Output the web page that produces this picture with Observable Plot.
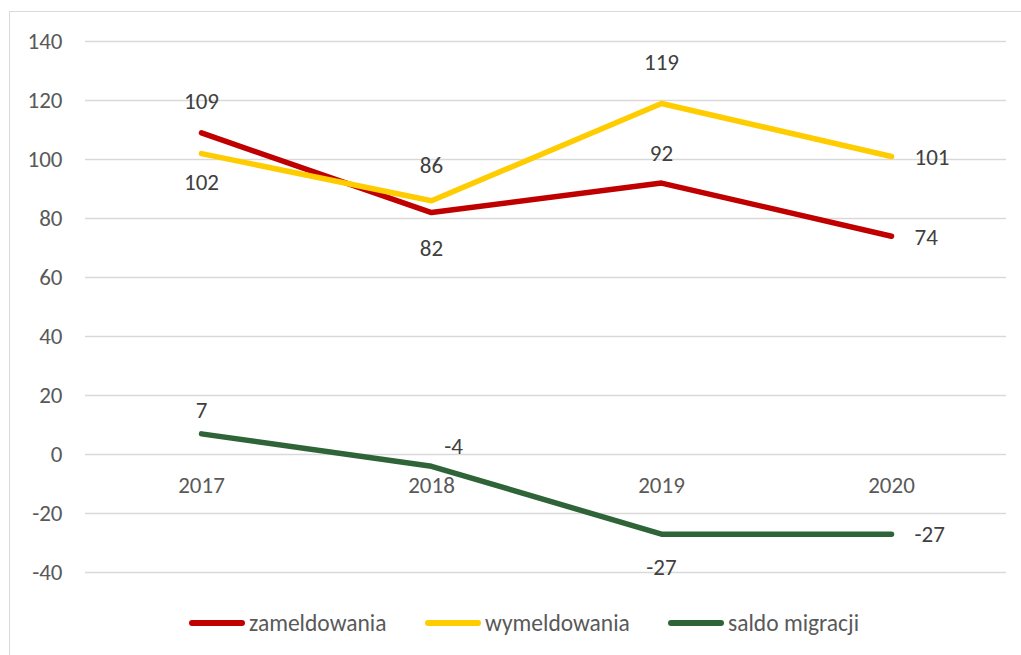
<!DOCTYPE html>
<html><head><meta charset="utf-8">
<script src="https://cdn.jsdelivr.net/npm/d3@7"></script>
<script src="https://cdn.jsdelivr.net/npm/@observablehq/plot@0.6"></script>
<style>
html,body{margin:0;padding:0;background:#fff;}
body{width:1021px;height:655px;overflow:hidden;position:relative;font-family:Carlito,Lato,sans-serif;}
#frame{position:absolute;left:9px;top:11px;width:1040px;height:700px;border:1.5px solid #d9d9d9;box-sizing:border-box;}
#chart{position:absolute;left:0;top:0;}
#legend{position:absolute;left:0;top:600px;width:1021px;height:55px;}
.item{position:absolute;top:8px;display:flex;align-items:center;height:30px;color:#595959;font-size:23.5px;}
.swatch{width:56px;height:5.5px;border-radius:3px;margin-right:4px;}
</style>
</head><body>
<div id="frame"></div>
<div id="chart"></div>
<div id="legend"></div>
<script>
const years = ["2017", "2018", "2019", "2020"];
const seriesNames = ["zameldowania", "wymeldowania", "saldo migracji"];
const zameldowania = [109, 82, 92, 74];
const wymeldowania = [102, 86, 119, 101];
const saldo = [7, -4, -27, -27];
const yTicks = [-40, -20, 0, 20, 40, 60, 80, 100, 120, 140];
const colors = ["#C00000", "#FFCC00", "#2E6437"];

// label placement (styling only): [dx, dy, textAnchor]
const labelPlacement = [
  [[0,-31,"middle"],[0,36,"middle"],[0,-29,"middle"],[23,1,"start"]],
  [[0,29,"middle"],[0,-35,"middle"],[0,-41,"middle"],[23,1,"start"]],
  [[0,-23,"middle"],[22,-20,"middle"],[0,33,"middle"],[23,0,"start"]]
];

const FONT = "Carlito, Lato, sans-serif";
const valuesBySeries = [zameldowania, wymeldowania, saldo];
const rows = [];
valuesBySeries.forEach((vals, s) => vals.forEach((v, i) => rows.push({series: seriesNames[s], year: years[i], value: v, s, i})));

const labelMarks = rows.map(r => {
  const [dx, dy, anchor] = labelPlacement[r.s][r.i];
  return Plot.text([r], {x: "year", y: "value", text: d => String(d.value), dx, dy, textAnchor: anchor,
    fontSize: 23, fill: "#404040", fontFamily: FONT});
});

const chart = Plot.plot({
  width: 1021,
  height: 600,
  marginTop: 41,
  marginBottom: 28,
  marginLeft: 85,
  marginRight: 15,
  style: {background: "transparent", fontFamily: FONT},
  x: {type: "point", domain: years, padding: 0.5, axis: null},
  y: {domain: [-40, 140], axis: null},
  color: {domain: seriesNames, range: colors},
  marks: [
    Plot.gridY(yTicks, {stroke: "#d9d9d9", strokeOpacity: 1, strokeWidth: 1.5}),
    Plot.axisY(yTicks, {tickSize: 0, tickPadding: 23, fontSize: 23, color: "#595959", label: null, tickFormat: d => String(d)}),
    Plot.text(years, {x: d => d, y: () => 0, dy: 31, text: d => d, fontSize: 23, fill: "#595959"}),
    Plot.line(rows, {x: "year", y: "value", stroke: "series", z: "series", strokeWidth: 5.5, strokeLinecap: "round", strokeLinejoin: "round"}),
    ...labelMarks
  ]
});
document.getElementById("chart").appendChild(chart);

const legendX = [189, 425, 668];
const legend = document.getElementById("legend");
seriesNames.forEach((name, k) => {
  const it = document.createElement("div");
  it.className = "item";
  it.style.left = legendX[k] + "px";
  const sw = document.createElement("div");
  sw.className = "swatch";
  sw.style.background = colors[k];
  const tx = document.createElement("span");
  tx.textContent = name;
  it.appendChild(sw); it.appendChild(tx);
  legend.appendChild(it);
});
</script>
</body></html>
